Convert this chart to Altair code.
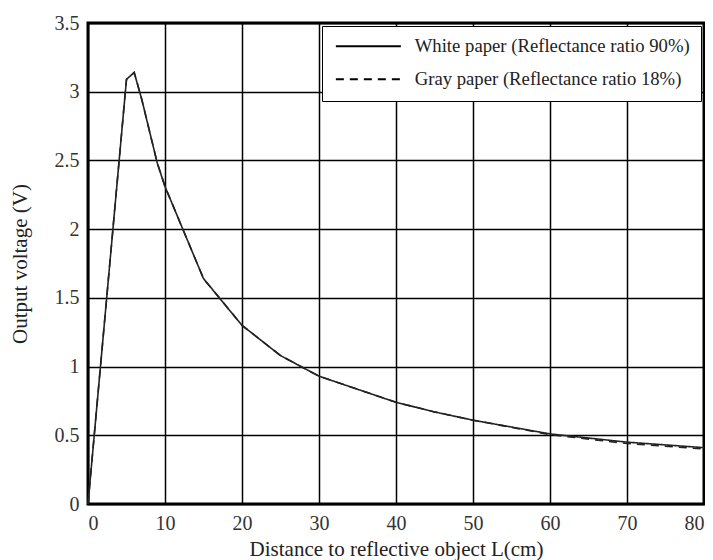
import altair as alt
import pandas as pd

distance = [0, 5, 6, 7, 9, 10, 15, 20, 25, 30, 40, 45, 50, 60, 70, 80]
white_v = [0, 3.09, 3.14, 2.94, 2.48, 2.31, 1.64, 1.30, 1.08, 0.93, 0.74, 0.67, 0.61, 0.51, 0.45, 0.41]
gray_v = [0, 3.09, 3.14, 2.94, 2.48, 2.31, 1.64, 1.30, 1.08, 0.93, 0.74, 0.67, 0.61, 0.505, 0.44, 0.40]

series = ["White paper (Reflectance ratio 90%)", "Gray paper (Reflectance ratio 18%)"]
x_ticks = list(range(0, 81, 10))
y_ticks = [0, 0.5, 1, 1.5, 2, 2.5, 3, 3.5]

rows = []
for d, w in zip(distance, white_v):
    rows.append({"L": d, "V": w, "series": series[0], "order": 1})
for d, g in zip(distance, gray_v):
    rows.append({"L": d, "V": g, "series": series[1], "order": 0})
df = pd.DataFrame(rows)

FONT = "Liberation Serif"

chart = alt.Chart(df).mark_line(strokeWidth=1.6, color="#222").encode(
    x=alt.X("L:Q", scale=alt.Scale(domain=[0, 80], nice=False),
            axis=alt.Axis(values=x_ticks, title="Distance to reflective object L(cm)",
                          titleY=45, titleBaseline="middle")),
    y=alt.Y("V:Q", scale=alt.Scale(domain=[0, 3.5], nice=False),
            axis=alt.Axis(values=y_ticks, format="~g", title="Output voltage (V)",
                          titleX=-68, titleBaseline="middle")),
    strokeDash=alt.StrokeDash("series:N",
        scale=alt.Scale(domain=series, range=[[1, 0], [8, 6]]),
        legend=alt.Legend(orient="none", legendX=234, legendY=3, title=None,
                          symbolType="M-1,0L9,0", symbolSize=169, symbolStrokeWidth=2,
                          symbolStrokeColor="black",
                          labelFont=FONT, labelFontSize=18.7, labelColor="#222",
                          labelOffset=63, labelLimit=400,
                          fillColor="white", strokeColor="black",
                          padding=11, rowPadding=13)),
    order=alt.Order("order:Q"),
).properties(
    width=616, height=481,
    autosize=alt.AutoSizeParams(type="none"),
    padding={"left": 80, "top": 15, "right": 1, "bottom": 60},
).configure_view(
    stroke="black", strokeWidth=3
).configure_axis(
    grid=True, gridColor="black", gridWidth=1.5, gridOpacity=1,
    domain=False, ticks=False, tickSize=0, labelPadding=9,
    labelFont=FONT, labelFontSize=20, labelColor="#333",
    titleFont=FONT, titleFontSize=21, titleFontWeight="normal", titleColor="#222",
)

chart.save("out.html", embed_options={"renderer": "svg", "actions": False})
